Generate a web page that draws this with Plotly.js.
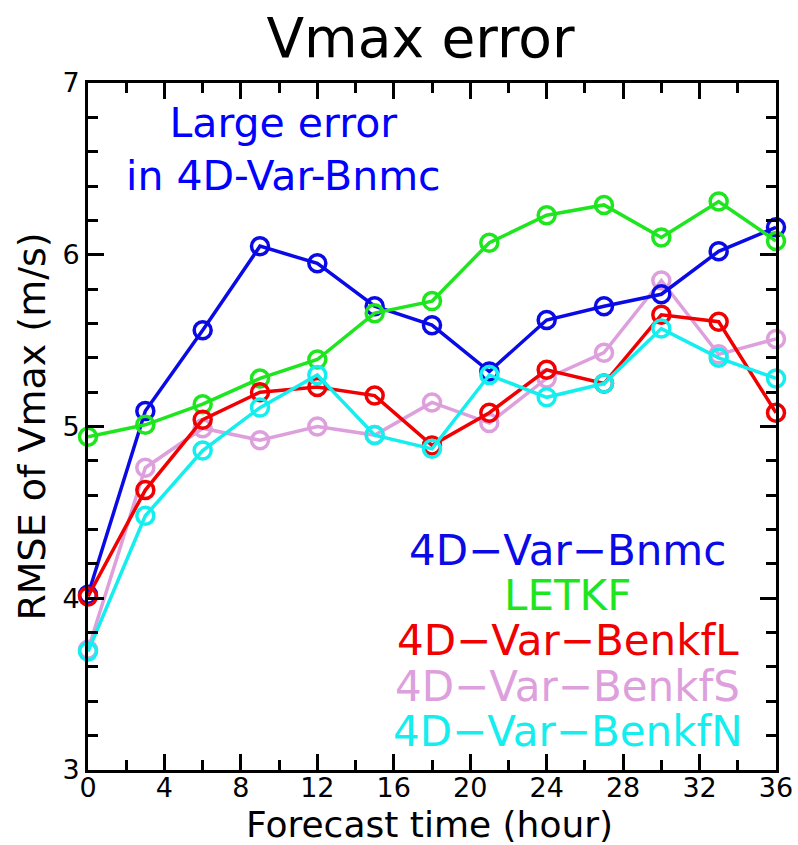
<!DOCTYPE html>
<html>
<head>
<meta charset="utf-8">
<script src="https://cdn.plot.ly/plotly-3.0.1.min.js"></script>
<style>html,body{margin:0;padding:0;background:#fff;}#chart{width:798px;height:845px;}</style>
</head>
<body>
<div id="chart"></div>
<script>
// Forecast hours
var hours = [0, 3, 6, 9, 12, 15, 18, 21, 24, 27, 30, 33, 36];

// RMSE of Vmax (m/s) for each experiment
var bnmc   = [4.02, 5.09, 5.56, 6.05, 5.95, 5.70, 5.59, 5.32, 5.62, 5.70, 5.77, 6.02, 6.16];
var letkf  = [4.94, 5.01, 5.13, 5.28, 5.39, 5.66, 5.73, 6.07, 6.23, 6.29, 6.10, 6.31, 6.08];
var benkfL = [4.01, 4.63, 5.04, 5.20, 5.23, 5.18, 4.89, 5.08, 5.33, 5.25, 5.65, 5.61, 5.08];
var benkfS = [3.70, 4.76, 4.99, 4.92, 5.00, 4.95, 5.14, 5.02, 5.28, 5.43, 5.85, 5.42, 5.51];
var benkfN = [3.69, 4.48, 4.86, 5.11, 5.30, 4.95, 4.87, 5.30, 5.17, 5.25, 5.57, 5.40, 5.28];

var names  = ["4D\u2212Var\u2212Bnmc", "LETKF", "4D\u2212Var\u2212BenkfL", "4D\u2212Var\u2212BenkfS", "4D\u2212Var\u2212BenkfN"];
var colors = ["#0a0ae6", "#1ee61e", "#f00000", "#dda0dd", "#14eeee"];
var seriesValues = [bnmc, letkf, benkfL, benkfS, benkfN];

var xTickVals = [0, 4, 8, 12, 16, 20, 24, 28, 32, 36];
var yTickVals = [3, 4, 5, 6, 7];

var chartTitle = "Vmax error";
var xTitle = "Forecast time (hour)";
var yTitle = "RMSE of Vmax (m/s)";
var noteText = "Large error<br>in 4D-Var-Bnmc";

// drawing order (bottom to top)
var order = [3, 0, 1, 2, 4];
var traces = order.map(function (i) {
  return {
    x: hours,
    y: seriesValues[i],
    name: names[i],
    type: "scatter",
    mode: "lines+markers",
    line: {color: colors[i], width: 3.5},
    marker: {symbol: "circle-open", size: 17, color: colors[i], line: {width: 3.5, color: colors[i]}},
    cliponaxis: false,
    showlegend: false
  };
});

var font = "DejaVu Sans, Verdana, sans-serif";
var annotations = [{
  xref: "paper", yref: "paper", x: 0.284, y: 0.903,
  text: noteText, showarrow: false, xanchor: "center", yanchor: "middle",
  font: {family: font, size: 41, color: "#0000ff"}
}, {
  xref: "paper", yref: "paper", x: 0.497, y: -0.079,
  text: xTitle, showarrow: false, xanchor: "center", yanchor: "middle",
  font: {family: font, size: 36, color: "#000"}
}];
var legendY0 = 0.320, legendStep = 0.066;
names.forEach(function (n, i) {
  annotations.push({
    xref: "paper", yref: "paper", x: 0.697, y: legendY0 - i * legendStep,
    text: n, showarrow: false, xanchor: "center", yanchor: "middle",
    font: {family: font, size: 42, color: colors[i]}
  });
});

var layout = {
  width: 798, height: 845,
  margin: {l: 88, r: 22, t: 83, b: 75},
  paper_bgcolor: "#ffffff", plot_bgcolor: "#ffffff",
  title: {text: chartTitle, x: 0.527, xanchor: "center", y: 0.955, yanchor: "middle",
          font: {family: font, size: 55, color: "#000"}},
  xaxis: {
    range: [0, 36], tickvals: xTickVals, ticks: "inside", ticklen: 16, tickwidth: 3, tickcolor: "#000",
    minor: {dtick: 2, ticks: "inside", ticklen: 10, tickwidth: 3, tickcolor: "#000", showgrid: false},
    showline: true, linewidth: 3, linecolor: "#000", mirror: "ticks",
    showgrid: false, zeroline: false, automargin: false,
    ticklabelstandoff: -8,
    tickfont: {family: font, size: 27, color: "#000"}
  },
  yaxis: {
    range: [3, 7], tickvals: yTickVals, ticks: "inside", ticklen: 16, tickwidth: 3, tickcolor: "#000",
    minor: {dtick: 0.2, ticks: "inside", ticklen: 10, tickwidth: 3, tickcolor: "#000", showgrid: false},
    showline: true, linewidth: 3, linecolor: "#000", mirror: "ticks",
    showgrid: false, zeroline: false, automargin: false,
    tickfont: {family: font, size: 27, color: "#000"},
    title: {text: yTitle, font: {family: font, size: 38, color: "#000"}, standoff: 6}
  },
  annotations: annotations
};

Plotly.newPlot("chart", traces, layout, {displayModeBar: false, staticPlot: true});
</script>
</body>
</html>
